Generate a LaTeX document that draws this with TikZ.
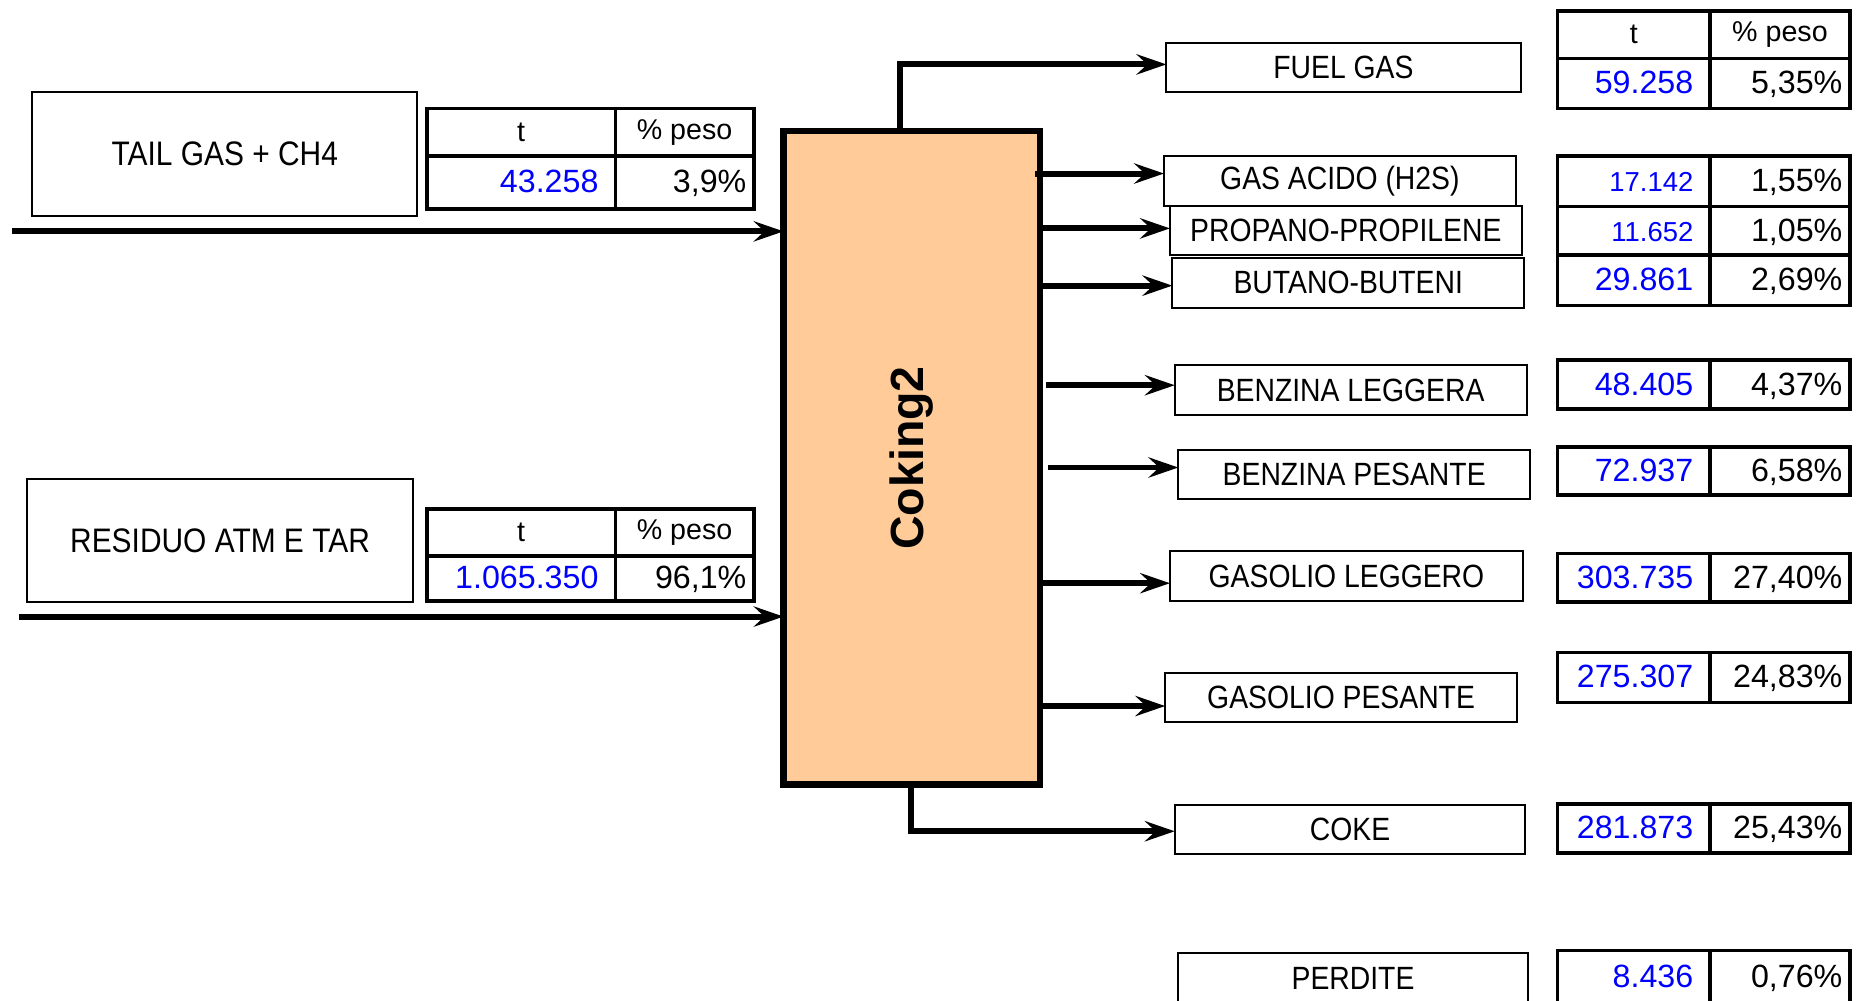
\documentclass[tikz,border=0pt]{standalone}
\usepackage{fontspec}
\setmainfont{Liberation Sans}
\newfontfamily\narrowsans[FakeStretch=0.88]{Liberation Sans}
\usetikzlibrary{arrows.meta}
\definecolor{peach}{RGB}{255,204,153}
\definecolor{valblue}{RGB}{0,0,255}
\newcommand\fsz[1]{\fontsize{#1}{#1}\selectfont}
% header row: prefix, x, y, w1, w2, h
\newcommand\hrow[6]{%
  \node[cell, hdr, minimum width=#4pt, minimum height=#6pt] (#1v) at (#2,#3) {t};
  \node[cell, hdr, minimum width=#5pt, minimum height=#6pt] (#1p) at (#1v.north east) {\% peso};}
% value row: prefix, x, y, w1, w2, h, value, pct
\newcommand\vrow[8]{%
  \node[cell, minimum width=#4pt, minimum height=#6pt] (#1v) at (#2,#3) {};
  \node[cell, minimum width=#5pt, minimum height=#6pt] (#1p) at (#1v.north east) {};
  \node[valtxt] (#1vt) at ([xshift=-14pt,yshift=1pt]#1v.east) {#7};
  \node[pcttxt] (#1pt) at ([xshift=-6pt,yshift=1pt]#1p.east) {#8};}
\begin{document}
\begin{tikzpicture}[x=1pt,y=-1pt,
  namebox/.style={draw, line width=1.7pt, inner sep=0pt, outer sep=0pt,
    minimum width=295pt, minimum height=42pt, font=\narrowsans\fsz{27}},
  leftbox/.style={draw, line width=1.7pt, inner sep=0pt, outer sep=0pt,
    minimum width=323pt, minimum height=104pt, font=\narrowsans\fsz{28.5}},
  cell/.style={draw, line width=3pt, inner sep=0pt, outer sep=0pt, anchor=north west},
  hdr/.style={font=\fsz{24}},
  valtxt/.style={anchor=east, inner sep=0pt, text height=19.5pt, text depth=0pt,
    text=valblue, font=\fsz{27}},
  pcttxt/.style={anchor=east, inner sep=0pt, text height=19.5pt, text depth=0pt,
    font=\fsz{27}},
  arr/.style={line width=5pt, -{Stealth[length=25pt,width=17pt,inset=9pt]}},
  reactor/.style={draw, line width=5.5pt, fill=peach, inner sep=0pt, outer sep=0pt, anchor=north west}
]
\useasboundingbox (0,0) rectangle (1568,839);

% ---- inputs ----
\node[leftbox] (tail) at (188.5,129) {TAIL GAS + CH4};
\hrow{ta}{358}{91}{158}{116}{40}
\vrow{tb}{358}{131}{158}{116}{44}{43.258}{3,9\%}

\node[leftbox, minimum height=103pt] (residuo) at (184.5,453.5) {RESIDUO ATM E TAR};
\hrow{ra}{358}{427}{158}{116}{39}
\vrow{rb}{358}{466}{158}{116}{38}{1.065.350}{96,1\%}

% ---- reactor ----
\node[reactor, minimum width=215pt, minimum height=548pt] (coking) at (657,110) {};
\node[rotate=90, font=\bfseries\fsz{39}] (cokinglabel) at (coking.center) {Coking2};

\coordinate (in1) at (10,194);
\draw[arr] (in1) -- (in1 -| coking.west);
\coordinate (in2) at (16,517);
\draw[arr] (in2) -- (in2 -| coking.west);

% ---- products ----
\node[namebox, minimum width=297pt, minimum height=41pt] (fuelgas) at (1126.5,56.5) {FUEL GAS};
\node[namebox] (gasacido) at (1123.5,152) {GAS ACIDO (H2S)};
\node[namebox, minimum height=41pt] (propano) at (1128.5,193.5) {PROPANO-PROPILENE};
\node[namebox] (butano) at (1130.5,237) {BUTANO-BUTENI};
\node[namebox] (benzl) at (1132.5,327) {BENZINA LEGGERA};
\node[namebox, minimum height=41pt] (benzp) at (1135.5,397.5) {BENZINA PESANTE};
\node[namebox, minimum width=296pt] (gasl) at (1129,483) {GASOLIO LEGGERO};
\node[namebox, minimum height=41pt] (gasp) at (1124.5,584.5) {GASOLIO PESANTE};
\node[namebox, minimum width=294pt, minimum height=41pt] (coke) at (1132,695.5) {COKE};
\node[namebox, minimum width=293pt] (perdite) at (1134.5,820) {PERDITE};

\coordinate (ftop) at (755,110);
\coordinate (fbend) at (755,54);
\draw[arr] (ftop) -- (fbend) -- (fbend -| fuelgas.west);

\foreach \n/\x/\y in {gasacido/868/145.5, propano/872/191.5, butano/872/239.5,
    benzl/877/323, benzp/879/392, gasl/870/489, gasp/870/592}{
  \coordinate (o-\n) at (\x,\y);
  \draw[arr] (o-\n) -- (o-\n -| \n.west);
}

\coordinate (cktop) at (764,658);
\coordinate (ckbend) at (764,697);
\draw[arr] (cktop) -- (ckbend) -- (ckbend -| coke.west);

% ---- product tables ----
\hrow{fa}{1306}{9}{128}{117}{40}
\vrow{fb}{1306}{49}{128}{117}{42}{59.258}{5,35\%}
\vrow{ga}{1306}{131}{128}{117}{42}{\fsz{23}17.142}{1,55\%}
\vrow{pa}{1306}{173}{128}{117}{41}{\fsz{23}11.652}{1,05\%}
\vrow{ba}{1306}{214}{128}{117}{42}{29.861}{2,69\%}
\vrow{la}{1306}{302}{128}{117}{41}{48.405}{4,37\%}
\vrow{pe}{1306}{375}{128}{117}{40}{72.937}{6,58\%}
\vrow{gl}{1306}{464}{128}{117}{41}{303.735}{27,40\%}
\vrow{gp}{1306}{547}{128}{117}{42}{275.307}{24,83\%}
\vrow{ck}{1306}{674}{128}{117}{41}{281.873}{25,43\%}
\vrow{pd}{1306}{797}{128}{117}{44}{8.436}{0,76\%}
\end{tikzpicture}
\end{document}
